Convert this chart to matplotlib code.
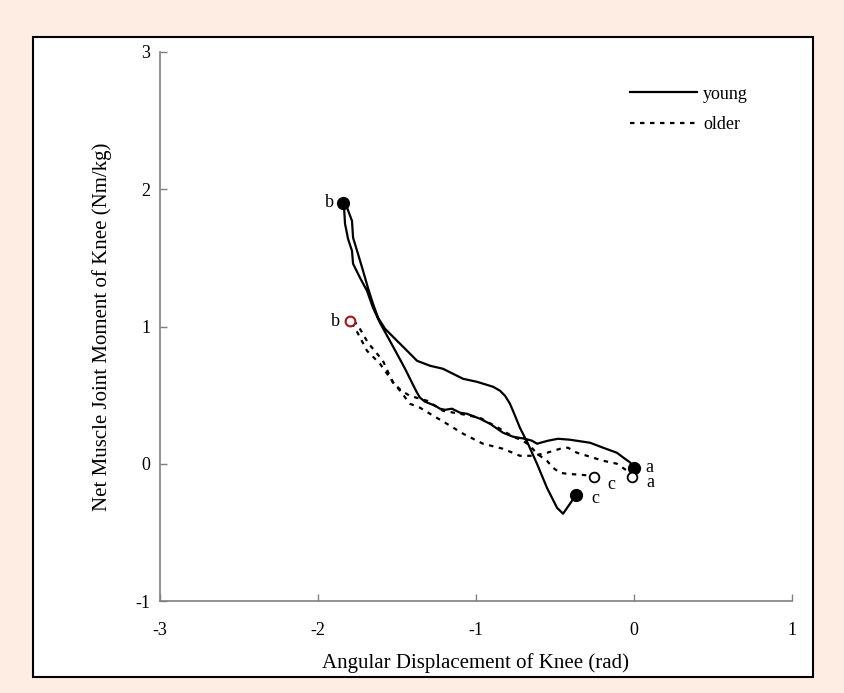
import matplotlib.pyplot as plt
from matplotlib.patches import Rectangle

# ------------------------------
# Data (rad, Nm/kg)
# ------------------------------

# young: a -> b along the lower trace, then b -> c along the upper trace
young_x = [0.00, -0.025, -0.057, -0.108, -0.196, -0.278, -0.405, -0.481, -0.544, -0.614,
           -0.646, -0.690, -0.766, -0.829, -0.911, -0.975, -1.057, -1.101, -1.152, -1.196,
           -1.228, -1.259, -1.323, -1.354, -1.373, -1.405, -1.449, -1.500, -1.563, -1.608,
           -1.652, -1.690, -1.734, -1.778, -1.785, -1.810, -1.829, -1.835, -1.842,
           -1.816, -1.785, -1.778, -1.747, -1.715, -1.684, -1.652, -1.620, -1.576, -1.500,
           -1.449, -1.373, -1.291, -1.209, -1.082, -0.994, -0.892, -0.848, -0.816, -0.785,
           -0.753, -0.722, -0.671, -0.614, -0.551, -0.487, -0.449, -0.405, -0.367]
young_y = [-0.03, 0.01, 0.036, 0.08, 0.117, 0.153, 0.175, 0.182, 0.168, 0.146,
           0.168, 0.182, 0.197, 0.226, 0.291, 0.328, 0.364, 0.372, 0.401, 0.393,
           0.401, 0.423, 0.452, 0.481, 0.517, 0.590, 0.692, 0.801, 0.933, 1.027,
           1.137, 1.260, 1.355, 1.457, 1.552, 1.639, 1.749, 1.865, 1.902,
           1.865, 1.770, 1.647, 1.530, 1.406, 1.282, 1.166, 1.064, 0.984, 0.896,
           0.838, 0.750, 0.714, 0.692, 0.619, 0.597, 0.561, 0.532, 0.495, 0.437,
           0.350, 0.262, 0.146, 0.000, -0.175, -0.321, -0.364, -0.291, -0.226]

# older: a -> b along the lower trace, then b -> c
older_x = [-0.01, -0.044, -0.108, -0.196, -0.278, -0.361, -0.418, -0.468, -0.551, -0.639,
           -0.722, -0.829, -0.956, -1.082, -1.184, -1.291, -1.354, -1.418, -1.481, -1.532,
           -1.608, -1.690, -1.766, -1.797,
           -1.753, -1.684, -1.589, -1.525, -1.470, -1.418, -1.310, -1.209, -1.101, -0.975,
           -0.848, -0.766, -0.703, -0.658, -0.614, -0.551, -0.513, -0.468, -0.424, -0.342,
           -0.29]
older_y = [-0.10, -0.051, 0.000, 0.022, 0.051, 0.080, 0.117, 0.109, 0.080, 0.058,
           0.058, 0.109, 0.146, 0.219, 0.291, 0.364, 0.408, 0.437, 0.532, 0.605,
           0.729, 0.823, 0.991, 1.042,
           1.020, 0.882, 0.750, 0.590, 0.530, 0.495, 0.459, 0.386, 0.364, 0.335,
           0.255, 0.197, 0.168, 0.131, 0.073, 0.022, -0.029, -0.066, -0.073, -0.080,
           -0.085]

# event points a, b, c
young_pts_x = [0.00, -1.84, -0.37]
young_pts_y = [-0.03, 1.90, -0.23]
older_pts_x = [-0.01, -1.80, -0.25]
older_pts_y = [-0.10, 1.04, -0.10]
pt_labels = ["a", "b", "c"]

xticks = [-3, -2, -1, 0, 1]
yticks = [-1, 0, 1, 2, 3]

# ------------------------------
# Plotting
# ------------------------------

plt.rcParams['font.family'] = ['Liberation Serif', 'DejaVu Serif']
plt.rcParams['font.size'] = 13
plt.rcParams['axes.unicode_minus'] = False

fig = plt.figure(figsize=(8.45, 6.93), dpi=100, facecolor='#fdede3')
fig.patches.append(Rectangle((33/845, 16/693), 780/845, 640/693, transform=fig.transFigure,
                             facecolor='white', edgecolor='black', linewidth=1.5, zorder=-10))

ax = fig.add_axes([160/845, 92/693, 632/845, 549/693])
ax.set_zorder(1)
ax.set_facecolor('none')

ax.plot(young_x, young_y, color='black', lw=1.6, label='young')
ax.plot(older_x, older_y, color='black', lw=1.6, linestyle=(0, (2, 2.5)), label='older')

# markers
ax.plot(young_pts_x, young_pts_y, 'o', color='black', markersize=8.5, linestyle='none')
ax.plot([older_pts_x[0], older_pts_x[2]], [older_pts_y[0], older_pts_y[2]], 'o',
        markerfacecolor='white', markeredgecolor='black', markersize=7, mew=1.3, linestyle='none')
ax.plot([older_pts_x[1]], [older_pts_y[1]], 'o', markerfacecolor='white',
        markeredgecolor='#a01818', markersize=7, mew=1.5, linestyle='none')

# point labels
ax.text(young_pts_x[0] + 0.07, young_pts_y[0], pt_labels[0], ha='left', va='center')
ax.text(older_pts_x[0] + 0.09, older_pts_y[0] - 0.04, pt_labels[0], ha='left', va='center')
ax.text(young_pts_x[1] - 0.06, young_pts_y[1], pt_labels[1], ha='right', va='center')
ax.text(older_pts_x[1] - 0.06, older_pts_y[1], pt_labels[1], ha='right', va='center')
ax.text(young_pts_x[2] + 0.10, young_pts_y[2] - 0.02, pt_labels[2], ha='left', va='center')
ax.text(older_pts_x[2] + 0.08, older_pts_y[2] - 0.05, pt_labels[2], ha='left', va='center')

ax.set_xlim(-3, 1)
ax.set_ylim(-1, 3)
ax.set_xticks(xticks)
ax.set_yticks(yticks)
ax.spines['top'].set_visible(False)
ax.spines['right'].set_visible(False)
for s in ['left', 'bottom']:
    ax.spines[s].set_color('#808080')
    ax.spines[s].set_linewidth(1.2)
ax.tick_params(axis='both', direction='in', length=5, color='#808080', width=1)
ax.tick_params(axis='x', pad=15)
ax.tick_params(axis='y', pad=7)

ax.set_xlabel("Angular Displacement of Knee (rad)", fontsize=15)
ax.set_ylabel("Net Muscle Joint Moment of Knee (Nm/kg)", fontsize=15)
ax.xaxis.set_label_coords(0.5, -0.095)
ax.yaxis.set_label_coords(-0.076, 0.5)

ax.legend(loc='upper left', bbox_to_anchor=(0.729, 0.955), frameon=False,
          handlelength=3.75, handletextpad=0.3, labelspacing=0.75, borderpad=0)

fig.savefig("out.png", dpi=100, facecolor=fig.get_facecolor())
